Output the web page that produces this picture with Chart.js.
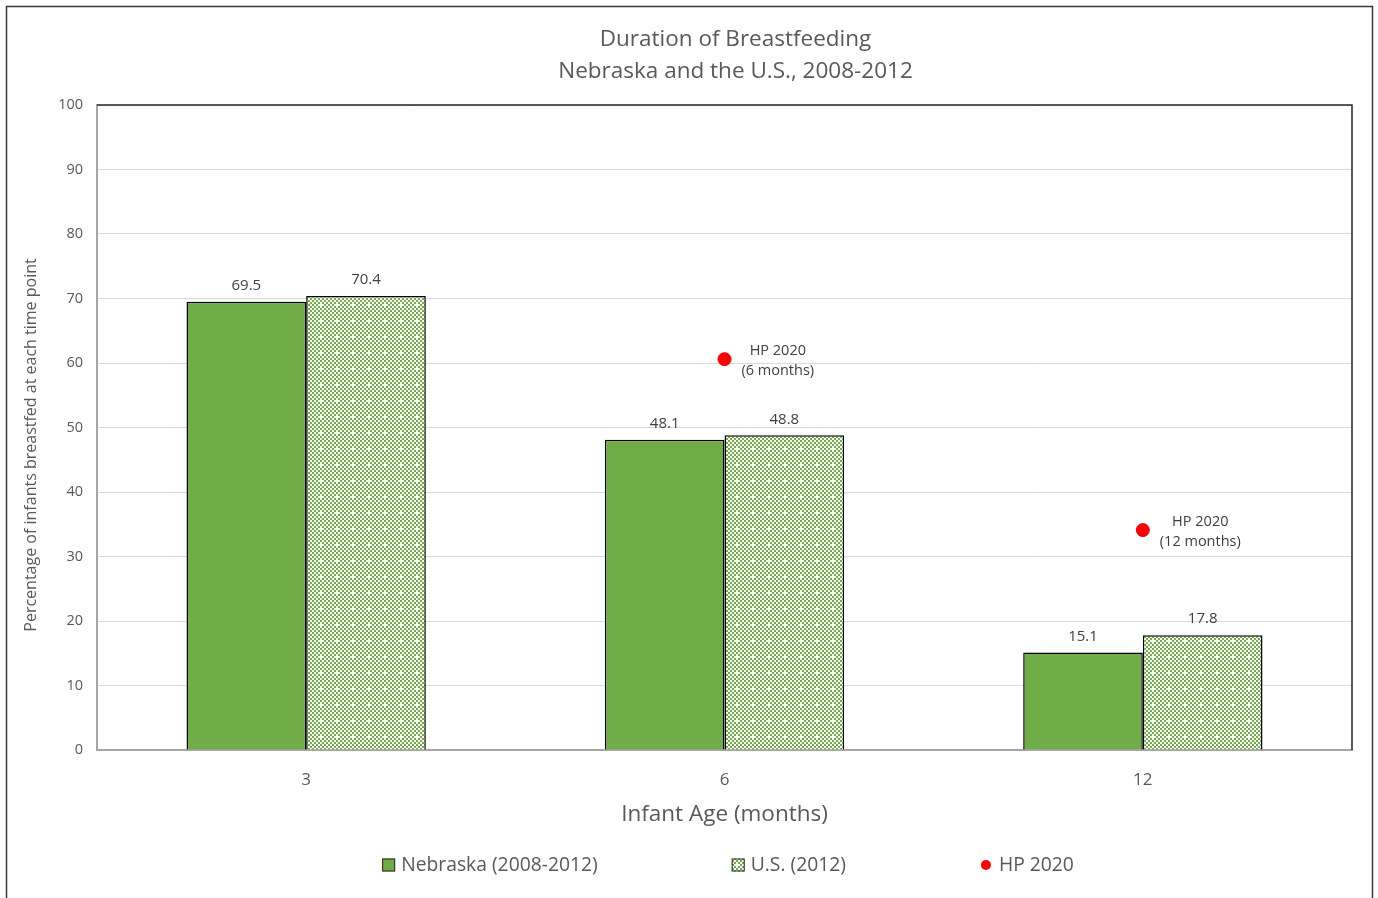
<!DOCTYPE html>
<html>
<head>
<meta charset="utf-8">
<script src="https://cdn.jsdelivr.net/npm/chart.js@4/dist/chart.umd.min.js"></script>
<style>
html,body{margin:0;padding:0;background:#fff;}
#wrap{width:1378px;height:898px;position:relative;}
</style>
</head>
<body>
<div id="wrap"><canvas id="c" width="1378" height="898"></canvas></div>
<script>
const categories = ['3', '6', '12'];
const nebraskaValues = [69.5, 48.1, 15.1];
const usValues = [70.4, 48.8, 17.8];
const hp2020Values = [null, 60.6, 34.1];
const hp2020Labels = [null, ['HP 2020', '(6 months)'], ['HP 2020', '(12 months)']];
const yTicks = [0, 10, 20, 30, 40, 50, 60, 70, 80, 90, 100];
const seriesNames = ['Nebraska (2008-2012)', 'U.S. (2012)', 'HP 2020'];
const titleLines = ['Duration of Breastfeeding', 'Nebraska and the U.S., 2008-2012'];
const xTitle = 'Infant Age (months)';
const yTitle = 'Percentage of infants breastfed at each time point';

const FONT = '"Open Sans", Lato, sans-serif';
const GREEN = '#70AD47';
const TEXT = '#595959';

// checker pattern for U.S. bars
function makePattern() {
  const t = document.createElement('canvas');
  t.width = 16; t.height = 16;
  const g = t.getContext('2d');
  g.fillStyle = '#fff'; g.fillRect(0, 0, 16, 16);
  g.fillStyle = GREEN;
  for (let i = 0; i < 8; i++) for (let j = 0; j < 8; j++) {
    if ((i + j) % 2 === 0) {
      if (i === 0 && j === 0) continue;
      g.fillRect(i * 2, j * 2, 2, 2);
    }
  }
  return document.getElementById('c').getContext('2d').createPattern(t, 'repeat');
}
const usPattern = makePattern();

const decorPlugin = {
  id: 'decor',
  afterDraw(chart) {
    const ctx = chart.ctx;
    const a = chart.chartArea;
    ctx.save();
    // plot top/right border
    ctx.strokeStyle = '#262626';
    ctx.lineWidth = 1.5;
    ctx.beginPath();
    ctx.moveTo(a.left, a.top); ctx.lineTo(a.right, a.top); ctx.lineTo(a.right, a.bottom);
    ctx.stroke();
    // outer border
    ctx.strokeStyle = '#3a3a3a';
    ctx.lineWidth = 1.5;
    ctx.strokeRect(6.5, 6.5, 1366, 920);

    // title
    ctx.fillStyle = TEXT;
    ctx.font = '22.5px ' + FONT;
    ctx.textAlign = 'center';
    ctx.textBaseline = 'middle';
    ctx.fillText(titleLines[0], 735.5, 40);
    ctx.fillText(titleLines[1], 735.5, 72);

    // y axis title
    ctx.save();
    ctx.translate(31, 445);
    ctx.rotate(-Math.PI / 2);
    ctx.font = '16px ' + FONT;
    ctx.fillText(yTitle, 0, 0);
    ctx.restore();

    // value labels
    ctx.font = '15px ' + FONT;
    ctx.fillStyle = '#404040';
    [0, 1].forEach(di => {
      const meta = chart.getDatasetMeta(di);
      const vals = chart.data.datasets[di].data;
      meta.data.forEach((bar, i) => {
        ctx.fillText(vals[i].toFixed(1), bar.x, bar.y - 16);
      });
    });
    // HP labels
    ctx.font = '14.5px ' + FONT;
    const hm = chart.getDatasetMeta(2);
    hm.data.forEach((pt, i) => {
      const lines = hp2020Labels[i];
      if (!lines || hp2020Values[i] == null) return;
      const w = Math.max(...lines.map(l => ctx.measureText(l).width));
      const cx = pt.x + 17 + w / 2;
      ctx.fillText(lines[0], cx, pt.y - 8);
      ctx.fillText(lines[1], cx, pt.y + 12);
    });

    // legend
    ctx.font = '19.3px ' + FONT;
    ctx.fillStyle = TEXT;
    ctx.textAlign = 'left';
    const gap = 134, box = 13, tgap = 6;
    const widths = seriesNames.map(n => box + tgap + ctx.measureText(n).width);
    const total = widths.reduce((s, v) => s + v, 0) + gap * 2;
    let x = 728 - total / 2;
    const ly = 866;
    seriesNames.forEach((n, i) => {
      if (i === 2) {
        ctx.fillStyle = '#FF0000';
        ctx.beginPath(); ctx.arc(x + 6, ly - 1, 5, 0, Math.PI * 2); ctx.fill();
      } else {
        ctx.fillStyle = i === 0 ? GREEN : usPattern;
        ctx.fillRect(x, ly - 1 - box / 2, box, box);
        ctx.strokeStyle = '#262626'; ctx.lineWidth = 1;
        ctx.strokeRect(x + 0.5, ly - 1 - box / 2 + 0.5, box - 1, box - 1);
      }
      ctx.fillStyle = TEXT;
      ctx.fillText(n, x + box + tgap, ly);
      x += widths[i] + gap;
    });
    ctx.restore();
  }
};

new Chart(document.getElementById('c'), {
  type: 'bar',
  data: {
    labels: categories,
    datasets: [
      { label: seriesNames[0], data: nebraskaValues, backgroundColor: GREEN, borderColor: '#000', borderWidth: 1.5, order: 2 },
      { label: seriesNames[1], data: usValues, backgroundColor: usPattern, borderColor: '#000', borderWidth: 1.5, order: 2 },
      { type: 'line', label: seriesNames[2], data: hp2020Values, showLine: false, pointRadius: 6.5, pointHoverRadius: 6.5,
        pointBackgroundColor: '#FF0000', pointBorderColor: '#FF0000', borderColor: '#FF0000', backgroundColor: '#FF0000', order: 1 }
    ]
  },
  options: {
    responsive: false,
    animation: false,
    maintainAspectRatio: false,
    layout: { padding: { top: 105, right: 26, left: 0, bottom: 0 } },
    datasets: { bar: { barPercentage: 1, categoryPercentage: 0.572 } },
    plugins: {
      legend: { display: false },
      title: { display: false },
      tooltip: { enabled: false }
    },
    scales: {
      x: {
        grid: { display: false, drawTicks: false },
        border: { color: '#a6a6a6', width: 2 },
        ticks: { color: TEXT, font: { size: 17, family: FONT }, padding: 20 },
        title: { display: true, text: xTitle, color: TEXT, font: { size: 22.5, family: FONT }, padding: { top: 0, bottom: 70 } },
        afterFit(s) { s.height = 148; }
      },
      y: {
        min: 0, max: 100,
        afterBuildTicks(s) { s.ticks = yTicks.map(v => ({ value: v })); },
        grid: { color: '#d9d9d9', lineWidth: 1, drawTicks: false },
        border: { color: '#a6a6a6', width: 2 },
        ticks: { color: TEXT, font: { size: 14.5, family: FONT }, padding: 14 },
        title: { display: false },
        afterFit(s) { s.width = 97; }
      }
    }
  },
  plugins: [decorPlugin]
});
</script>
</body>
</html>
